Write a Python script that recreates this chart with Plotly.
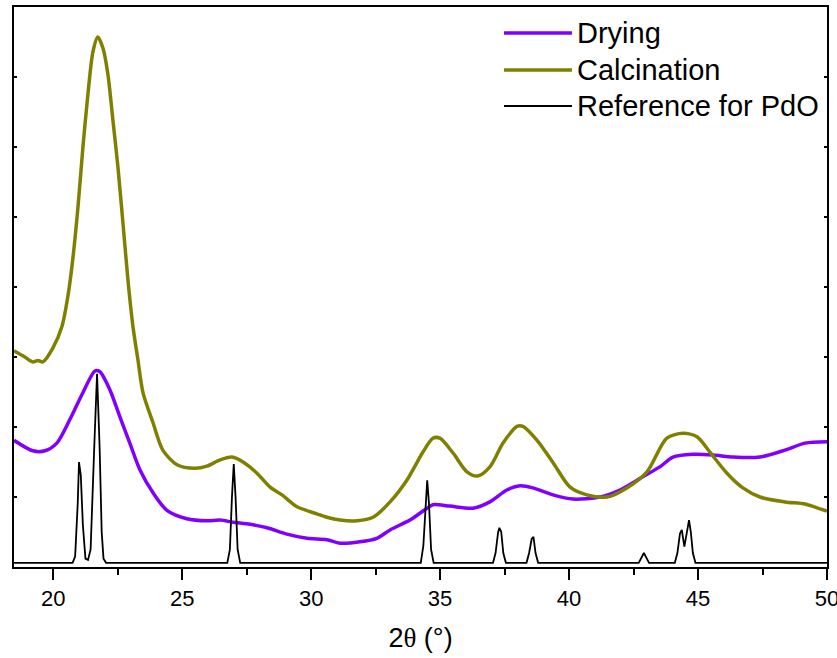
import plotly.graph_objects as go

# 2-theta positions and intensities (arbitrary units, offset for stacking)
drying_2theta = [18.48, 19.21, 19.68, 20.14, 20.65, 21.15, 21.62, 21.81, 22.20, 22.59,
                 22.97, 23.36, 23.87, 24.41, 25.18, 25.96, 26.47, 26.97, 27.63, 28.29,
                 29.06, 29.84, 30.61, 31.12, 31.89, 32.55, 33.06, 33.83, 34.49, 34.72,
                 35.38, 36.27, 36.93, 37.59, 38.10, 38.60, 39.38, 40.15, 41.20, 41.97,
                 42.86, 43.52, 44.03, 44.80, 45.58, 46.36, 47.40, 48.37, 49.15, 50.00]
drying_int = [1.81, 1.66, 1.66, 1.77, 2.11, 2.49, 2.80, 2.79, 2.53, 2.14,
              1.77, 1.39, 1.06, 0.81, 0.69, 0.66, 0.67, 0.64, 0.61, 0.56,
              0.47, 0.41, 0.39, 0.34, 0.36, 0.41, 0.53, 0.67, 0.84, 0.89,
              0.87, 0.84, 0.93, 1.10, 1.16, 1.13, 1.03, 0.97, 1.00, 1.10,
              1.29, 1.43, 1.57, 1.61, 1.60, 1.57, 1.57, 1.67, 1.77, 1.79]

calc_2theta = [18.48, 18.90, 19.21, 19.41, 19.60, 19.99, 20.34, 20.57, 20.76, 20.96,
               21.15, 21.35, 21.54, 21.73, 21.93, 22.12, 22.31, 22.51, 22.70, 22.90,
               23.09, 23.28, 23.48, 23.87, 24.25, 24.80, 25.49, 25.96, 26.47, 26.93,
               27.36, 27.90, 28.41, 28.87, 29.45, 30.22, 30.61, 31.12, 31.78, 32.40,
               33.06, 33.71, 34.33, 34.72, 34.99, 35.50, 36.04, 36.46, 36.93, 37.44,
               37.98, 38.21, 38.76, 39.38, 40.04, 40.69, 41.47, 42.24, 43.02, 43.79,
               44.41, 44.96, 45.46, 46.12, 46.74, 47.40, 48.37, 49.15, 49.73, 50.00]
calc_int = [3.09, 3.00, 2.93, 2.95, 2.93, 3.13, 3.44, 3.87, 4.40, 5.14,
            5.99, 6.77, 7.36, 7.57, 7.41, 7.04, 6.40, 5.71, 4.93, 4.09,
            3.44, 2.97, 2.49, 2.06, 1.67, 1.46, 1.41, 1.44, 1.53, 1.57,
            1.50, 1.34, 1.14, 1.03, 0.86, 0.76, 0.71, 0.67, 0.66, 0.71,
            0.93, 1.24, 1.64, 1.84, 1.84, 1.63, 1.36, 1.30, 1.43, 1.77,
            2.01, 2.01, 1.81, 1.49, 1.14, 1.03, 1.00, 1.13, 1.36, 1.84,
            1.91, 1.86, 1.64, 1.34, 1.13, 1.00, 0.93, 0.90, 0.83, 0.80]

pdo_2theta = [18.40, 20.75, 20.85, 20.95, 21.00, 21.07, 21.15, 21.25, 21.35, 21.45,
              21.60, 21.70, 21.80, 21.88, 21.95, 22.05, 26.75, 26.85, 26.93, 27.00,
              27.07, 27.15, 27.25, 34.25, 34.35, 34.45, 34.50, 34.57, 34.65, 34.75,
              37.05, 37.15, 37.25, 37.30, 37.37, 37.45, 37.55, 38.35, 38.45, 38.55,
              38.62, 38.70, 38.80, 42.70, 42.80, 42.90, 43.00, 43.10, 44.10, 44.20,
              44.30, 44.37, 44.47, 44.55, 44.65, 44.72, 44.80, 44.90, 50.10]
pdo_int = [0.06, 0.06, 0.15, 0.90, 1.50, 1.31, 0.60, 0.12, 0.10, 0.25,
           1.80, 2.76, 1.70, 0.50, 0.12, 0.06, 0.06, 0.25, 1.00, 1.47,
           1.00, 0.25, 0.06, 0.06, 0.30, 1.00, 1.24, 0.90, 0.25, 0.06,
           0.06, 0.20, 0.50, 0.56, 0.50, 0.20, 0.06, 0.06, 0.20, 0.40,
           0.43, 0.20, 0.06, 0.06, 0.13, 0.20, 0.13, 0.06, 0.06, 0.20,
           0.48, 0.53, 0.29, 0.45, 0.67, 0.50, 0.20, 0.06, 0.06]

x_ticks = [20, 25, 30, 35, 40, 45, 50]
x_minor_ticks = [22.5, 27.5, 32.5, 37.5, 42.5, 47.5]

legend_names = ["Drying", "Calcination", "Reference for PdO"]

PURPLE = "#8000FF"
OLIVE = "#808000"
FONT = "Liberation Sans, Arial, sans-serif"

series = [
    (drying_2theta, drying_int, PURPLE, 3.5, "spline"),
    (calc_2theta, calc_int, OLIVE, 3.5, "spline"),
    (pdo_2theta, pdo_int, "black", 1.8, "linear"),
]

fig = go.Figure()
for (xs, ys, color, width, shape), name in zip(series, legend_names):
    fig.add_trace(go.Scatter(x=xs, y=ys, mode="lines", name=name,
                             line=dict(color=color, width=width, shape=shape,
                                       smoothing=0.8)))

# Legend block in the upper right: sample line + label per series
legend_rows_y = [0.9536, 0.8875, 0.8232]
shapes = []
annotations = []
for (xs, ys, color, width, shape), name, ly in zip(series, legend_names, legend_rows_y):
    shapes.append(dict(type="line", xref="paper", yref="paper",
                       x0=0.6027, x1=0.6863, y0=ly, y1=ly,
                       line=dict(color=color, width=width)))
    annotations.append(dict(xref="paper", yref="paper", x=0.6905, y=ly,
                            xanchor="left", yanchor="middle", showarrow=False,
                            text=name, font=dict(size=29, family=FONT, color="black")))

fig.update_layout(
    width=837, height=658,
    margin=dict(l=14, r=10, t=7, b=91, autoexpand=False),
    paper_bgcolor="white", plot_bgcolor="white",
    font=dict(family=FONT, color="black"),
    showlegend=False,
    shapes=shapes,
    annotations=annotations,
)

fig.update_xaxes(
    range=[18.48, 50.0],
    tickvals=x_ticks, ticktext=[str(v) for v in x_ticks],
    ticklabeloverflow="allow", automargin=False,
    ticks="outside", ticklen=11, tickwidth=2, tickcolor="black",
    minor=dict(tickvals=x_minor_ticks,
               ticks="outside", ticklen=6, tickwidth=2, tickcolor="black"),
    tickfont=dict(size=22, family=FONT, color="black"),
    showline=True, linewidth=2, linecolor="black", mirror=True,
    showgrid=False, zeroline=False,
    title=dict(text="2<span style='font-family:Liberation Serif'>θ</span> (°)",
               font=dict(size=27, family=FONT, color="black"), standoff=18),
)
fig.update_yaxes(
    range=[0, 8], dtick=1, tick0=0, automargin=False,
    ticks="inside", ticklen=3, tickwidth=1.5, tickcolor="black",
    showticklabels=False,
    showline=True, linewidth=2, linecolor="black", mirror="ticks",
    showgrid=False, zeroline=False,
)

fig.write_html("out.html")
